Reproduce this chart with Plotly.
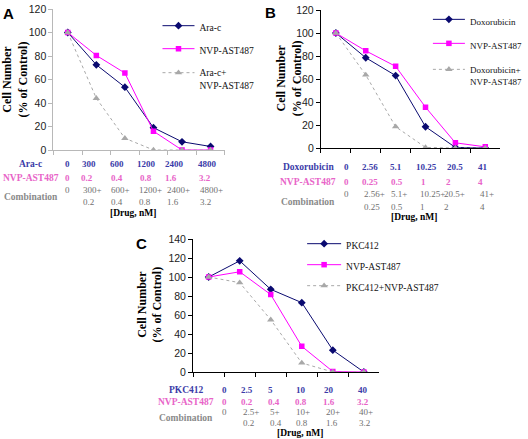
import plotly.graph_objects as go

W, H = 528, 439

# ---------------- data ----------------
a_drug_name = "Ara-c"
a_drug_dose = ["0", "300", "600", "1200", "2400", "4800"]
a_nvp_dose = ["0", "0.2", "0.4", "0.8", "1.6", "3.2"]
a_drug_vals = [100, 72.5, 53.5, 19, 7, 3]
a_nvp_vals = [100, 80.5, 65.5, 16, 0, 0]
a_combo_vals = [100, 44, 10, 0, 0, 0]

b_drug_name = "Doxorubicin"
b_drug_dose = ["0", "2.56", "5.1", "10.25", "20.5", "41"]
b_nvp_dose = ["0", "0.25", "0.5", "1", "2", "4"]
b_drug_vals = [100, 78.5, 63, 18.5, 0.5, 0]
b_nvp_vals = [100, 84.5, 71, 35.5, 4.5, 1]
b_combo_vals = [100, 63.5, 18.5, 0.5, 0, 0]

c_drug_name = "PKC412"
c_drug_dose = ["0", "2.5", "5", "10", "20", "40"]
c_nvp_dose = ["0", "0.2", "0.4", "0.8", "1.6", "3.2"]
c_drug_vals = [100, 117, 87, 73, 23, 0]
c_nvp_vals = [100, 105.5, 81.5, 27, 0.5, 0]
c_combo_vals = [100, 94, 55, 9.5, 0, 0]

nvp_name = "NVP-AST487"
y_title = "Cell Number<br>(% of Control)"

# ---------------- styles ----------------
NAVY = "#0a0a70"
MAG = "#ff00ff"
GRAY = "#a8a8a8"
BLUE_TXT = "#3b3ba8"
PINK_TXT = "#e864c8"
GRAY_TXT = "#8a8a8a"
VAL_TXT = "#707070"
SERIF = "Liberation Serif, Times New Roman, serif"
SANS = "Liberation Sans, Arial, sans-serif"
LEG_OFF = 12  # distance from legend top to first symbol (px)


def px(x):
    return x / W


def py(y):
    return 1 - y / H


fig = go.Figure()

panels = [
    dict(ax="", drug=a_drug_name, dd=a_drug_dose, v=(a_drug_vals, a_nvp_vals, a_combo_vals),
         combo_label="Ara-c+<br>NVP-AST487", lx=159, ly=(25, 48, 72), iw=32, fs=9.5),
    dict(ax="2", drug=b_drug_name, dd=b_drug_dose, v=(b_drug_vals, b_nvp_vals, b_combo_vals),
         combo_label="Doxorubicin+<br>NVP-AST487", lx=432, ly=(19, 43, 69), iw=32, fs=9),
    dict(ax="3", drug=c_drug_name, dd=c_drug_dose, v=(c_drug_vals, c_nvp_vals, c_combo_vals),
         combo_label="PKC412+NVP-AST487", lx=305, ly=(243, 264, 285), iw=34, fs=9.5),
]

leg_layout = {}
n = 0
for p in panels:
    xr = "x" + p["ax"]
    yr = "y" + p["ax"]
    dv, nv, cv = p["v"]
    specs = [
        (dv, p["drug"], dict(color=NAVY, width=1), dict(symbol="diamond", size=6, color=NAVY)),
        (nv, nvp_name, dict(color=MAG, width=1), dict(symbol="square", size=5.5, color=MAG)),
        (cv, p["combo_label"], dict(color=GRAY, width=1, dash="dot"),
         dict(symbol="triangle-up", size=6.5, color=GRAY)),
    ]
    for j, (vals, name, line, marker) in enumerate(specs):
        n += 1
        lname = "legend" if n == 1 else "legend%d" % n
        fig.add_trace(go.Scatter(x=p["dd"], y=vals, name=name, xaxis=xr, yaxis=yr,
                                 mode="lines+markers", legend=lname, line=line, marker=marker))
        leg_layout[lname] = dict(
            x=px(p["lx"]), y=min(1.0, py(p["ly"][j] - LEG_OFF)), xanchor="left", yanchor="top",
            valign="top", itemwidth=p["iw"], bgcolor="rgba(0,0,0,0)",
            font=dict(family=SERIF, size=p["fs"], color="#111"))

# axes geometry (pixels)
geo = {
    "": dict(x0=54, x1=227, y0=150, y1=9, top=120, col="#b8b8b8"),
    "2": dict(x0=324, x1=505, y0=148, y1=10, top=120, col="#000000"),
    "3": dict(x0=195, x1=383, y0=372, y1=239, top=140, col="#000000"),
}
for k, g in geo.items():
    fig.layout["xaxis" + k] = dict(
        domain=[px(g["x0"]), px(g["x1"])], anchor="y" + k, type="category",
        range=[-0.5, 5.5], showgrid=False, showticklabels=False, zeroline=False,
        showline=True, linecolor=g["col"], linewidth=1.2, automargin=False,
        ticks="outside", tickson="boundaries", ticklen=4, tickcolor=g["col"])
    fig.layout["yaxis" + k] = dict(
        domain=[py(g["y0"]), py(g["y1"])], anchor="x" + k, range=[0, g["top"]],
        dtick=20, showgrid=False, zeroline=False, showline=True, linecolor=g["col"],
        linewidth=1.2, ticks="outside", ticklen=4, tickcolor=g["col"], automargin=False,
        tickfont=dict(family=SANS, size=10.5, color="#222"))

# panel A: axis title (sits at the left page edge)
fig.layout.yaxis.title = dict(text=y_title, standoff=3,
                              font=dict(family=SERIF, size=12, color="#000", weight="bold"))

fig.update_layout(**leg_layout)

ann = []


def text(x, y, s, size=9.5, color="#000", bold=False, family=SERIF, xanchor="center", angle=0):
    if bold:
        s = "<b>" + s + "</b>"
    ann.append(dict(x=px(x), y=py(y), xref="paper", yref="paper", text=s, showarrow=False,
                    xanchor=xanchor, yanchor="middle", textangle=angle,
                    font=dict(family=family, size=size, color=color)))


# panel labels
text(9, 14, "A", size=15, bold=True, family=SANS)
text(273, 13, "B", size=15, bold=True, family=SANS)
text(143, 243, "C", size=15, bold=True, family=SANS)

# y titles for panels B and C
text(292, 78, y_title, size=12, bold=True, angle=-90)
text(151, 305, y_title, size=12, bold=True, angle=-90)

# tables
tables = [
    dict(drug=a_drug_name, dd=a_drug_dose, nd=a_nvp_dose, lx=31,
         ry=(164, 178, 190, 202, 197), cols_c=[68, 90, 118, 148, 176, 209],
         cols_n=[68, 88, 118, 147, 173, 207], cols_l=[82, 110, 138, 167, 200],
         drug_xy=(134, 213)),
    dict(drug=b_drug_name, dd=b_drug_dose, nd=b_nvp_dose, lx=311,
         ry=(167, 182, 194, 207, 202), cols_c=[350, 374, 400, 431, 459, 488],
         cols_n=[350, 374, 401, 428, 453, 485], cols_l=[365, 393, 422, 446, 483],
         drug_xy=(418, 217)),
    dict(drug=c_drug_name, dd=c_drug_dose, nd=c_nvp_dose, lx=188,
         ry=(390, 402, 412, 423, 418), cols_c=[227, 249, 273, 304, 332, 366],
         cols_n=[227, 249, 277, 304, 332, 366], cols_l=[243, 271, 297, 327, 360],
         drug_xy=(303, 433)),
]
for t in tables:
    r1, r2, r3, r4, rl = t["ry"]
    text(t["lx"], r1, t["drug"], color=BLUE_TXT, bold=True)
    text(t["lx"], r2, nvp_name, color=PINK_TXT, bold=True)
    text(t["lx"], rl, "Combination", color=GRAY_TXT, bold=True)
    for i, d in enumerate(t["dd"]):
        text(t["cols_c"][i], r1, d, size=9, color=BLUE_TXT, bold=True)
    for i, d in enumerate(t["nd"]):
        text(t["cols_n"][i], r2, d, size=9, color=PINK_TXT, bold=True)
    text(t["cols_c"][0], r3, t["dd"][0], size=9, color=VAL_TXT)
    for i in range(1, 6):
        text(t["cols_l"][i - 1], r3, t["dd"][i] + "+", size=9, color=VAL_TXT, xanchor="left")
        text(t["cols_l"][i - 1], r4, t["nd"][i], size=9, color=VAL_TXT, xanchor="left")
    text(t["drug_xy"][0], t["drug_xy"][1], "[Drug, nM]", size=9.5, bold=True)

fig.update_layout(width=W, height=H, margin=dict(l=0, r=0, t=0, b=0),
                  paper_bgcolor="white", plot_bgcolor="white", annotations=ann,
                  showlegend=True)
fig.write_html("out.html", config={"displayModeBar": False},
               post_script="document.body.style.margin='0';document.body.style.overflow='hidden';")
